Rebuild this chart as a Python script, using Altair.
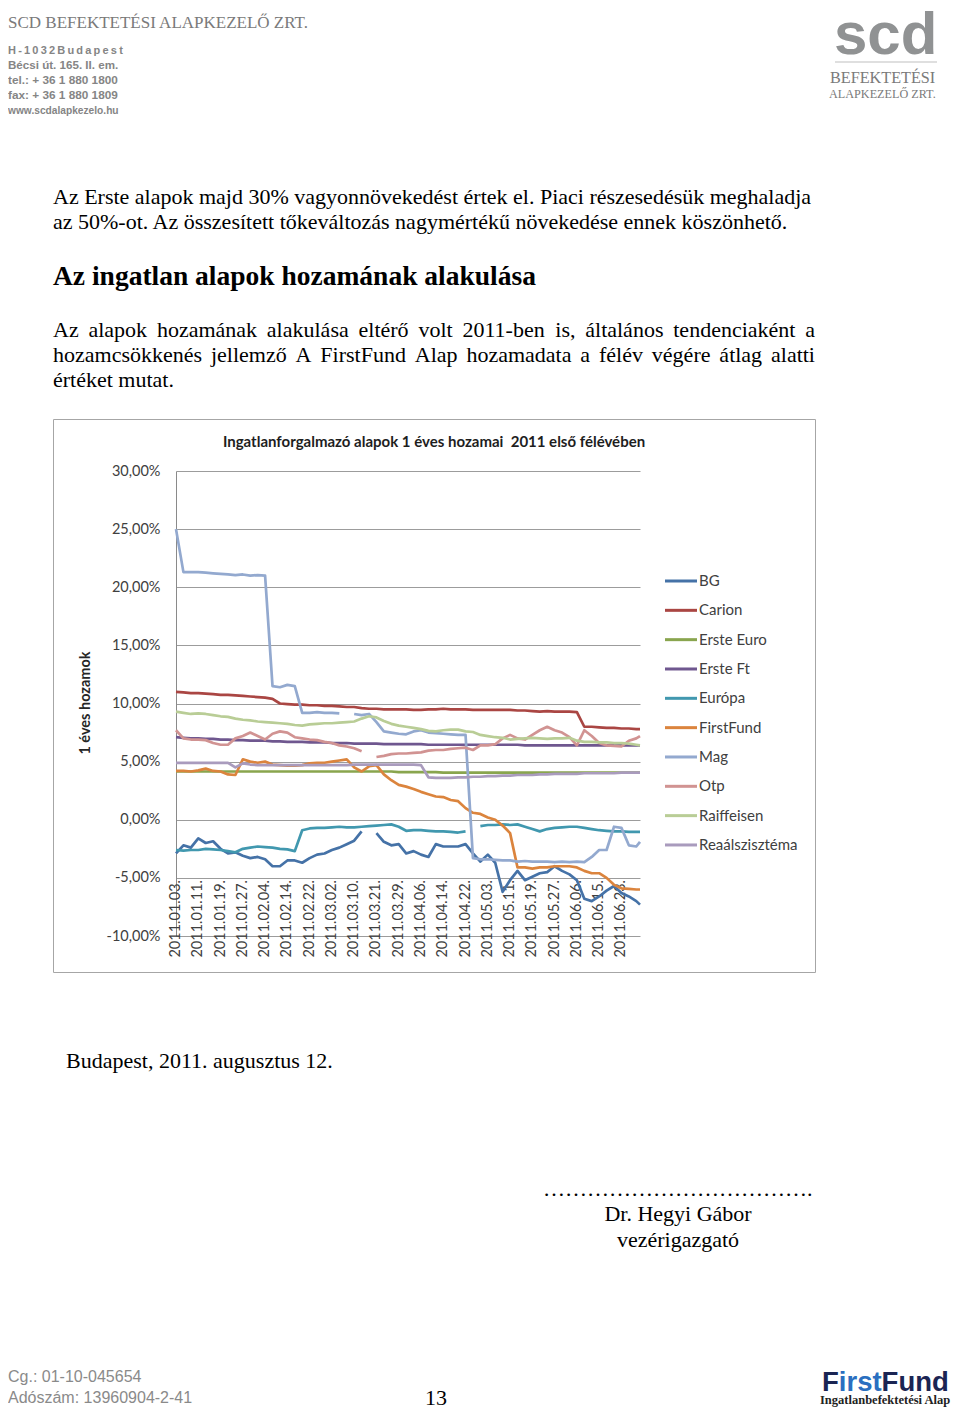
import altair as alt
import pandas as pd

# ---------------- data ----------------
SERIES = ["BG", "Carion", "Erste Euro", "Erste Ft", "Európa", "FirstFund",
          "Mag", "Otp", "Raiffeisen", "Reaálszisztéma"]
COLORS = ["#4572A7", "#AA4643", "#89A54E", "#6F578F", "#4198AF", "#DB843D",
          "#93A9CF", "#D19392", "#B9CD96", "#A99BBD"]

TICK_LABELS = ["2011.01.03.", "2011.01.11.", "2011.01.19.", "2011.01.27.", "2011.02.04.",
               "2011.02.14.", "2011.02.22.", "2011.03.02.", "2011.03.10.", "2011.03.21.",
               "2011.03.29.", "2011.04.06.", "2011.04.14.", "2011.04.22.", "2011.05.03.",
               "2011.05.11.", "2011.05.19.", "2011.05.27.", "2011.06.06.", "2011.06.15.",
               "2011.06.23."]
TICK_IDX = [0, 6, 12, 18, 24, 30, 36, 42, 48, 54, 60, 66, 72, 78, 84, 90, 96, 102, 108, 114, 120]

# trading-day index of each sampled observation
SAMPLE_IDX = list(range(0, 125, 2)) + [125]

BG = [-2.9, -2.2, -2.4, -1.6, -2.0, -1.85, -2.5, -2.9, -2.8, -3.1, -3.3, -3.2, -3.4, -4.0, -4.0, -3.5,
      -3.5, -3.7, -3.3, -3.0, -2.9, -2.6, -2.4, -2.1, -1.8, -1.0, None, -1.15, -1.9, -2.2, -2.1, -2.9,
      -2.7, -3.0, -3.2, -2.1, -2.3, -2.3, -2.3, -2.1, -2.9, -3.6, -3.0, -3.7, -6.2, -5.2, -4.4, -5.2,
      -4.9, -4.6, -4.5, -4.0, -4.4, -4.7, -5.2, -6.8, -7.0, -6.6, -6.1, -5.7, -6.3, -6.6, -7.0, -7.3]
CARION = [11.0, 10.95, 10.9, 10.9, 10.85, 10.8, 10.75, 10.75, 10.7, 10.65, 10.6, 10.55, 10.5, 10.4, 10.0, 9.95,
          9.9, 9.9, 9.85, 9.85, 9.8, 9.8, 9.75, 9.7, 9.7, 9.6, 9.55, 9.55, 9.5, 9.5, 9.5, 9.5,
          9.45, 9.45, 9.5, 9.5, 9.55, 9.5, 9.5, 9.5, 9.45, 9.45, 9.45, 9.45, 9.45, 9.45, 9.4, 9.4,
          9.35, 9.3, 9.35, 9.3, 9.3, 9.3, 9.25, 8.0, 8.0, 7.95, 7.9, 7.9, 7.85, 7.85, 7.8, 7.8]
ERSTE_EURO = [4.15, 4.15, 4.15, 4.15, 4.15, 4.15, 4.15, 4.15, 4.15, 4.15, 4.15, 4.15, 4.15, 4.15, 4.15, 4.15,
              4.15, 4.15, 4.15, 4.15, 4.15, 4.15, 4.15, 4.15, 4.15, 4.15, 4.15, 4.15, 4.15, 4.15, 4.1, 4.1,
              4.1, 4.1, 4.1, 4.1, 4.05, 4.05, 4.05, 4.05, 4.05, 4.05, 4.05, 4.05, 4.05, 4.05, 4.05, 4.05,
              4.05, 4.05, 4.05, 4.05, 4.05, 4.05, 4.05, 4.05, 4.05, 4.05, 4.05, 4.05, 4.05, 4.05, 4.05, 4.05]
ERSTE_FT = [7.1, 7.05, 7.0, 7.0, 6.95, 6.95, 6.9, 6.9, 6.85, 6.85, 6.8, 6.8, 6.8, 6.75, 6.75, 6.7,
            6.7, 6.7, 6.65, 6.65, 6.65, 6.6, 6.6, 6.6, 6.55, 6.55, 6.55, 6.55, 6.5, 6.5, 6.5, 6.5,
            6.5, 6.5, 6.45, 6.45, 6.45, 6.45, 6.45, 6.45, 6.45, 6.45, 6.45, 6.45, 6.45, 6.45, 6.45, 6.4,
            6.4, 6.4, 6.4, 6.4, 6.4, 6.4, 6.4, 6.4, 6.4, 6.4, 6.4, 6.4, 6.4, 6.4, 6.4, 6.4]
EUROPA = [-2.6, -2.65, -2.6, -2.6, -2.5, -2.55, -2.6, -2.7, -2.8, -2.5, -2.4, -2.3, -2.35, -2.4, -2.5, -2.55,
          -2.7, -0.9, -0.75, -0.7, -0.7, -0.65, -0.6, -0.65, -0.65, -0.6, -0.55, -0.5, -0.45, -0.4, -0.6, -0.95,
          -0.9, -0.9, -0.95, -1.0, -1.0, -1.05, -1.1, -1.0, None, -0.55, -0.45, -0.45, -0.4, -0.45, -0.4, -0.6,
          -0.8, -1.0, -0.8, -0.7, -0.65, -0.6, -0.6, -0.7, -0.8, -0.9, -0.95, -1.0, -1.0, -1.05, -1.05, -1.05]
FIRSTFUND = [4.2, 4.2, 4.15, 4.25, 4.4, 4.2, 4.15, 3.9, 3.85, 5.2, 5.0, 4.9, 5.0, 4.75, 4.7, 4.65,
             4.65, 4.7, 4.85, 4.9, 4.9, 5.0, 5.1, 5.2, 4.5, 4.15, 4.6, 4.7, 3.9, 3.4, 3.0, 2.85,
             2.65, 2.4, 2.2, 2.0, 1.95, 1.7, 1.6, 1.0, 0.6, 0.5, 0.2, 0.0, -0.5, -1.15, -4.1, -4.1,
             -4.2, -4.1, -4.1, -4.0, -4.0, -4.0, -4.1, -4.4, -4.6, -4.6, -5.0, -5.6, -5.9, -5.95, -6.0, -6.0]
MAG = [25.0, 21.3, 21.3, 21.3, 21.25, 21.2, 21.15, 21.1, 21.05, 21.1, 21.0, 21.05, 21.0, 11.5, 11.4, 11.6,
       11.5, 9.2, 9.2, 9.25, 9.2, 9.2, 9.15, None, 9.1, 9.0, 9.1, 8.4, 7.6, 7.5, 7.4, 7.35,
       7.6, 7.7, 7.5, 7.45, 7.4, 7.35, 7.3, 7.3, -3.3, -3.4, -3.4, -3.45, -3.5, -3.5, -3.6, -3.55,
       -3.6, -3.6, -3.6, -3.65, -3.6, -3.65, -3.6, -3.65, -3.2, -2.6, -2.6, -0.6, -0.7, -2.2, -2.3, -1.9]
OTP = [7.7, 7.0, 6.9, 6.9, 6.85, 6.6, 6.45, 6.45, 7.0, 7.2, 7.5, 7.2, 6.9, 7.4, 7.6, 7.5,
       7.1, 7.0, 6.9, 6.85, 6.7, 6.6, 6.4, 6.3, 6.15, 5.9, None, 5.4, 5.5, 5.65, 5.7, 5.7,
       5.75, 5.8, 5.95, 6.0, 6.0, 6.1, 6.15, 6.2, 6.0, 6.4, 6.4, 6.5, 7.0, 7.3, 7.0, 6.9,
       7.3, 7.7, 8.0, 7.7, 7.5, 7.1, 6.4, 7.7, 7.2, 6.6, 6.4, 6.35, 6.3, 6.8, 7.0, 7.2]
RAIFFEISEN = [9.3, 9.2, 9.1, 9.15, 9.1, 9.0, 8.9, 8.85, 8.7, 8.6, 8.55, 8.45, 8.4, 8.35, 8.3, 8.25,
              8.15, 8.1, 8.2, 8.25, 8.3, 8.3, 8.35, 8.4, 8.45, 8.7, 8.9, 8.8, 8.5, 8.25, 8.1, 8.0,
              7.9, 7.8, 7.65, 7.6, 7.7, 7.75, 7.75, 7.6, 7.55, 7.3, 7.2, 7.1, 7.05, 6.9, 6.95, 7.0,
              7.05, 7.0, 6.95, 7.0, 7.0, 7.05, 6.8, 6.7, 6.7, 6.65, 6.65, 6.6, 6.6, 6.55, 6.45, 6.4]
REAL = [4.9, 4.9, 4.9, 4.9, 4.9, 4.9, 4.9, 4.9, 4.5, 4.85, 4.75, 4.7, 4.7, 4.7, 4.7, 4.7,
        4.7, 4.7, 4.7, 4.7, 4.7, 4.7, 4.7, 4.7, 4.75, 4.75, 4.75, 4.75, 4.75, 4.75, 4.75, 4.75,
        4.75, 4.7, 3.65, 3.6, 3.6, 3.6, 3.65, 3.65, 3.7, 3.7, 3.75, 3.75, 3.8, 3.8, 3.85, 3.85,
        3.85, 3.9, 3.9, 3.95, 3.95, 3.95, 3.95, 4.0, 4.0, 4.0, 4.0, 4.0, 4.05, 4.05, 4.05, 4.05]

VALUES = {"BG": BG, "Carion": CARION, "Erste Euro": ERSTE_EURO, "Erste Ft": ERSTE_FT,
          "Európa": EUROPA, "FirstFund": FIRSTFUND, "Mag": MAG, "Otp": OTP,
          "Raiffeisen": RAIFFEISEN, "Reaálszisztéma": REAL}
for _k, _v in VALUES.items():
    assert len(_v) == len(SAMPLE_IDX), (_k, len(_v))

rows = []
for name in SERIES:
    seg = 0
    for i, v in zip(SAMPLE_IDX, VALUES[name]):
        if v is None:
            seg += 1
            continue
        rows.append({"series": name, "seg": f"{name}#{seg}", "idx": i, "value": v})
df = pd.DataFrame(rows)

# ---------------- layout ----------------
OX, OY = 176, 471          # page position of the plot origin
PW, PH = 464, 465          # plot area
TOTAL_W, TOTAL_H = 944, 1399
PAD = {"left": OX - 8, "top": OY - 8,
       "right": TOTAL_W - (OX - 8) - PW, "bottom": TOTAL_H - (OY - 8) - PH}

SERIF = "Liberation Serif, Times New Roman, serif"
SANS = "Liberation Sans, Arial, sans-serif"
CAL = "Lato, Carlito, Calibri, sans-serif"

ONE = pd.DataFrame({"a": [1]})


def T(text, X, Y, size, font=SERIF, color="#000000", weight="normal",
      align="left", baseline="alphabetic", angle=None):
    kw = dict(fontSize=size, font=font, color=color, fontWeight=weight,
              align=align, baseline=baseline)
    if angle is not None:
        kw["angle"] = angle
    return alt.Chart(ONE).mark_text(**kw).encode(
        x=alt.value(X - OX), y=alt.value(Y - OY), text=alt.value(text))


TNR = {' ': 250, 'a': 444, 'b': 500, 'c': 444, 'd': 500, 'e': 444, 'f': 333, 'g': 500,
       'h': 500, 'i': 278, 'j': 278, 'k': 500, 'l': 278, 'm': 778, 'n': 500, 'o': 500,
       'p': 500, 'r': 333, 's': 389, 't': 278, 'u': 500, 'v': 500, 'y': 500, 'z': 444,
       'á': 444, 'é': 444, 'ő': 500, 'ö': 500, 'ü': 500, 'ű': 500, 'í': 278,
       'A': 722, 'F': 556, '-': 333, ',': 250, '.': 250, '%': 833}


def tw(s, size):
    return sum(TNR.get(c, 500) for c in s) / 1000.0 * size


def justified(line, x0, x1, y, size):
    words = line.split(" ")
    natural = sum(tw(w, size) for w in words)
    gap = (x1 - x0 - natural) / (len(words) - 1)
    out, x = [], x0
    for w in words:
        out.append(T(w, x, y, size))
        x += tw(w, size) + gap
    return out


layers = []

# chart frame
layers.append(alt.Chart(ONE).mark_rect(fill="white", fillOpacity=0, stroke="#a6a6a6", strokeWidth=1).encode(
    x=alt.value(53.5 - OX), x2=alt.value(815.5 - OX), y=alt.value(419.5 - OY), y2=alt.value(972.5 - OY)))

# header left
layers.append(T("SCD BEFEKTETÉSI ALAPKEZELŐ ZRT.", 8, 28, 17, SERIF, "#7a7a7a"))
GR = "#858585"
layers.append(T("\u2009".join("H-1032Budapest"), 8, 54, 11, SANS, GR, "bold"))
layers.append(T("Bécsi út. 165. II. em.", 8, 69, 11.6, SANS, GR, "bold"))
layers.append(T("tel.: + 36 1 880 1800", 8, 84, 11.8, SANS, GR, "bold"))
layers.append(T("fax: + 36 1 880 1809", 8, 99, 11.8, SANS, GR, "bold"))
layers.append(T("www.scdalapkezelo.hu", 8, 114, 10.2, SANS, GR, "bold"))

# header right logo
layers.append(T("scd", 834, 54, 60, SANS, "#909293", "bold"))
layers.append(alt.Chart(ONE).mark_rule(color="#d4d4d4", strokeWidth=1.5).encode(
    x=alt.value(835 - OX), x2=alt.value(937 - OX), y=alt.value(62 - OY)))
layers.append(T("BEFEKTETÉSI", 830, 83, 16.2, SERIF, "#7a7a7a"))
layers.append(T("ALAPKEZELŐ ZRT.", 829, 98, 12.2, SERIF, "#7a7a7a"))

# body text
layers.append(T("Az Erste alapok majd 30% vagyonnövekedést értek el. Piaci részesedésük meghaladja",
                53, 204, 22))
layers.append(T("az 50%-ot. Az összesített tőkeváltozás nagymértékű növekedése ennek köszönhető.",
                53, 229, 22))
layers.append(T("Az ingatlan alapok hozamának alakulása", 53, 285, 27.5, SERIF, "#000000", "bold"))
layers += justified("Az alapok hozamának alakulása eltérő volt 2011-ben is, általános tendenciaként a",
                    53, 815, 337, 22)
layers += justified("hozamcsökkenés jellemző A FirstFund Alap hozamadata a félév végére átlag alatti",
                    53, 815, 362, 22)
layers.append(T("értéket mutat.", 53, 387, 22))

# chart texts
layers.append(T("Ingatlanforgalmazó alapok 1 éves hozamai\u00a0 2011 első félévében", 434, 447, 15,
                CAL, "#1e1e1e", "bold", align="center"))
layers.append(T("1 éves hozamok", 86, 703, 14.5, CAL, "#262626", "bold", align="center",
                baseline="middle", angle=270))

xscale = alt.Scale(domain=[0, 125], nice=False, zero=False)
yscale = alt.Scale(domain=[-10, 30], nice=False, zero=False)

tick_df = pd.DataFrame({"idx": TICK_IDX, "label": TICK_LABELS})
layers.append(alt.Chart(tick_df).mark_text(
    angle=270, align="right", baseline="middle", font=CAL, fontSize=14.5, color="#404040").encode(
    x=alt.X("idx:Q", scale=xscale, axis=None),
    y=alt.value(880 - OY),
    text="label:N"))

ylabel = ("(datum.value < 0 ? '-' : '') + replace(format(abs(datum.value), '.2f'), '.', ',') + '%'")
lines = alt.Chart(df).mark_line(strokeWidth=2.7, strokeJoin="round").encode(
    x=alt.X("idx:Q", scale=xscale, axis=None),
    y=alt.Y("value:Q", scale=yscale, axis=alt.Axis(
        values=[-10, -5, 0, 5, 10, 15, 20, 25, 30], title=None, grid=True,
        gridColor="#9c9c9c", gridWidth=1, domainColor="#8a8a8a", domainWidth=1,
        ticks=False, tickSize=0, labelPadding=16, labelFont=CAL, labelFontSize=14.5,
        labelColor="#404040", labelExpr=ylabel)),
    color=alt.Color("series:N", scale=alt.Scale(domain=SERIES, range=COLORS), legend=None),
    detail="seg:N")
layers.append(lines)

# legend
for k, (name, col) in enumerate(zip(SERIES, COLORS)):
    yc = 581 + k * 29.33
    layers.append(alt.Chart(ONE).mark_rule(color=col, strokeWidth=3).encode(
        x=alt.value(665 - OX), x2=alt.value(697 - OX), y=alt.value(yc - OY)))
    layers.append(T(name, 699, yc, 15, CAL, "#404040", baseline="middle"))

# closing
layers.append(T("Budapest, 2011. augusztus 12.", 66, 1068, 22))
layers.append(T("\u2026" * 12 + ".", 543, 1196, 22))
layers.append(T("Dr. Hegyi Gábor", 678, 1221, 22, align="center"))
layers.append(T("vezérigazgató", 678, 1247, 22, align="center"))

# footer
layers.append(T("Cg.: 01-10-045654", 8, 1382, 16, SANS, "#8a8a8a"))
layers.append(T("Adószám: 13960904-2-41", 8, 1403, 16, SANS, "#8a8a8a"))
layers.append(T("13", 425, 1405, 22))
NAVY, BLUE = "#1b2553", "#2a6fc0"
FS = 27.5
layers.append(T("F", 822, 1391, FS, SANS, NAVY, "bold"))
layers.append(T("irst", 822 + 0.611 * FS, 1391, FS, SANS, BLUE, "bold"))
layers.append(T("Fund", 822 + (0.611 + 1.556) * FS, 1391, FS, SANS, NAVY, "bold"))
layers.append(T("Ingatlanbefektetési Alap", 820, 1404, 12.5, SERIF, "#222222", "bold"))

chart = alt.layer(*layers).properties(
    width=PW, height=PH, padding=PAD,
    autosize=alt.AutoSizeParams(type="none"),
    background="white",
).configure_view(stroke=None)

chart.save("out.html", embed_options={"renderer": "svg", "actions": False})
